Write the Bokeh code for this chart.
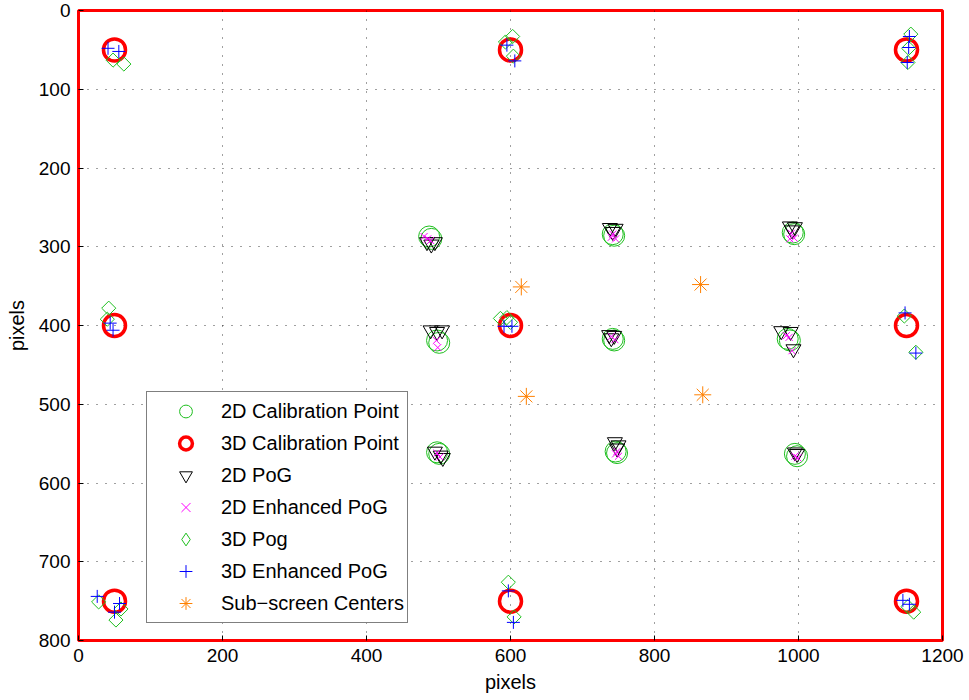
import math
from bokeh.plotting import figure
from bokeh.models import Range1d, Legend, LegendItem, FixedTicker
from bokeh.embed import file_html
from bokeh.resources import INLINE

# 2D calibration targets (inner 3x3 grid, slightly doubled rings)
cal2d_x = [487, 490, 742, 744, 992, 994, 498, 501, 742, 744, 985, 988, 498, 501, 746, 748, 995, 998]
cal2d_y = [287, 290, 284, 286, 282, 284, 419, 422, 417, 419, 417, 419, 561, 563, 560, 562, 563, 566]

# 3D calibration targets (outer 3x3 grid)
cal3d_x = [50, 600, 1150, 50, 600, 1150, 50, 600, 1150]
cal3d_y = [50, 50, 50, 400, 400, 400, 750, 750, 750]

# 2D point of gaze estimates
pog2d_x = [484, 490, 495, 738, 746, 742, 988, 995, 991, 489, 498, 505, 737, 744, 740,
           976, 989, 993, 495, 503, 506, 745, 750, 748, 995, 998]
pog2d_y = [294, 297, 294, 276, 277, 281, 274, 275, 279, 406, 408, 406, 412, 413, 416,
           407, 408, 430, 560, 565, 568, 548, 552, 556, 561, 563]

# 2D enhanced point of gaze
epog2d_x = [480, 485, 489, 742, 746, 740, 990, 994, 988, 497, 499, 740, 745,
            983, 987, 991, 498, 502, 748, 750, 746, 995, 999]
epog2d_y = [287, 290, 292, 284, 290, 288, 283, 289, 290, 419, 428, 414, 418,
            413, 415, 432, 562, 567, 560, 566, 563, 566, 568]

# 3D point of gaze
pog3d_x = [48, 63, 593, 603, 604, 1156, 1153, 1152, 42, 40, 586, 595, 600,
           1147, 1163, 28, 59, 52, 597, 605, 1152, 1160]
pog3d_y = [63, 68, 40, 33, 58, 30, 48, 66, 378, 392, 391, 390, 396,
           388, 434, 751, 760, 774, 726, 770, 757, 764]

# 3D enhanced point of gaze
epog3d_x = [41, 56, 595, 606, 1154, 1153, 1151, 44, 48, 591, 602,
            1148, 1163, 26, 57, 50, 597, 604, 1145, 1154]
epog3d_y = [48, 52, 44, 64, 33, 47, 66, 397, 406, 401, 401,
            384, 435, 744, 753, 764, 737, 777, 749, 754]

# Sub-screen centers
sub_x = [615, 864, 622, 867]
sub_y = [351, 348, 490, 488]

x_ticks = [0, 200, 400, 600, 800, 1000, 1200]
y_ticks = [0, 100, 200, 300, 400, 500, 600, 700, 800]

FONT = "Liberation Sans"
GREEN = "#1fbf1f"

p = figure(width=969, height=700, x_range=Range1d(0, 1200), y_range=Range1d(800, 0),
           output_backend="svg", toolbar_location=None,
           min_border_left=78, min_border_right=27, min_border_top=10, min_border_bottom=60)

p.outline_line_color = "#ff0000"
p.outline_line_width = 3
p.background_fill_color = "white"

for ax in (p.xaxis[0], p.yaxis[0]):
    ax.axis_line_color = None
    ax.major_tick_in = 5
    ax.major_tick_out = 0
    ax.minor_tick_line_color = None
    ax.major_label_text_font = FONT
    ax.major_label_text_font_size = "19px"
    ax.major_label_text_color = "black"
    ax.axis_label_text_font = FONT
    ax.axis_label_text_font_size = "20px"
    ax.axis_label_text_font_style = "normal"
    ax.axis_label_text_color = "black"
    ax.axis_label = "pixels"

p.xaxis.ticker = FixedTicker(ticks=x_ticks)
p.yaxis.ticker = FixedTicker(ticks=y_ticks)
p.xaxis.major_label_standoff = 8
p.yaxis.major_label_standoff = 8
p.xaxis.axis_label_standoff = 6
p.yaxis.axis_label_standoff = 8

p.xgrid.ticker = FixedTicker(ticks=x_ticks)
p.ygrid.ticker = FixedTicker(ticks=y_ticks)
for g in (p.xgrid[0], p.ygrid[0]):
    g.grid_line_color = "black"
    g.grid_line_alpha = 0.75
    g.grid_line_dash = "1 8"
    g.grid_line_width = 1

r_cal2d = p.scatter(cal2d_x, cal2d_y, marker="circle", size=21, fill_color=None,
                    line_color=GREEN, line_width=1)
r_cal3d = p.scatter(cal3d_x, cal3d_y, marker="circle", size=22, fill_color=None,
                    line_color="#ff0000", line_width=3.5)
r_pog2d = p.scatter(pog2d_x, pog2d_y, marker="inverted_triangle", size=15, fill_color=None,
                    line_color="black", line_width=1)
r_epog2d = p.scatter(epog2d_x, epog2d_y, marker="x", size=10, line_color="#ff00ff", line_width=1)
# square turned by 45 degrees gives an equal-sided diamond
r_pog3d = p.scatter(pog3d_x, pog3d_y, marker="square", size=10, angle=math.pi / 4,
                    fill_color=None, line_color=GREEN, line_width=1)
# hidden copy drawn with the diamond marker, used only as the legend swatch
r_pog3d_key = p.scatter(pog3d_x, pog3d_y, marker="diamond", size=14, fill_color=None,
                        line_color=GREEN, line_width=1, visible=False)
r_epog3d = p.scatter(epog3d_x, epog3d_y, marker="cross", size=13, line_color="#0000ff", line_width=1)
r_sub = p.scatter(sub_x, sub_y, marker="asterisk", size=17, line_color="#ff8000", line_width=1)

legend = Legend(items=[
    LegendItem(label="2D Calibration Point", renderers=[r_cal2d]),
    LegendItem(label="3D Calibration Point", renderers=[r_cal3d]),
    LegendItem(label="2D PoG", renderers=[r_pog2d]),
    LegendItem(label="2D Enhanced PoG", renderers=[r_epog2d]),
    LegendItem(label="3D Pog", renderers=[r_pog3d_key]),
    LegendItem(label="3D Enhanced PoG", renderers=[r_epog3d]),
    LegendItem(label="Sub\u2212screen Centers", renderers=[r_sub]),
], location=(68, 17))
legend.border_line_color = "black"
legend.border_line_width = 1
legend.background_fill_color = "white"
legend.background_fill_alpha = 1
legend.inactive_fill_alpha = 0
legend.label_text_font = FONT
legend.label_text_font_size = "20px"
legend.label_text_color = "black"
legend.glyph_height = 32
legend.glyph_width = 71
legend.label_height = 32
legend.spacing = 0
legend.padding = 3
legend.margin = 0
legend.label_standoff = 0
p.add_layout(legend)

open("out.html", "w").write(file_html(p, INLINE))
